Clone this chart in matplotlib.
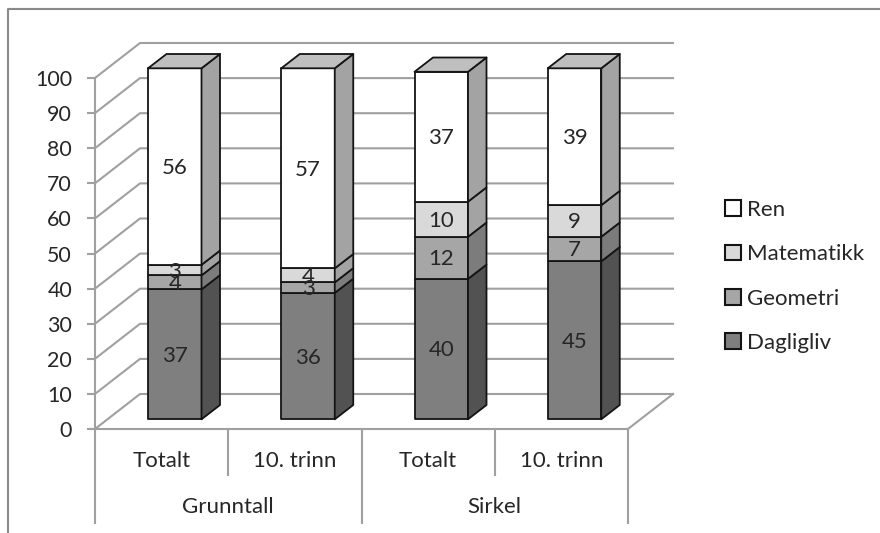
import matplotlib
matplotlib.use("Agg")
import matplotlib.pyplot as plt
from matplotlib.lines import Line2D
from matplotlib.patches import Patch

plt.rcParams["font.family"] = ["Lato", "DejaVu Sans"]

# chart values
groups = ["Grunntall", "Sirkel"]
columns = ["Totalt", "10. trinn", "Totalt", "10. trinn"]
dagligliv = [37, 36, 40, 45]
geometri = [4, 3, 12, 7]
matematikk = [3, 4, 10, 9]
ren = [56, 57, 37, 39]
series_names = ["Dagligliv", "Geometri", "Matematikk", "Ren"]
y_ticks = list(range(0, 101, 10))

front_colors = ["#7f7f7f", "#a6a6a6", "#d9d9d9", "#ffffff"]
side_colors = ["#525252", "#7c7c7c", "#a3a3a3", "#a3a3a3"]
top_color = "#bfbfbf"
grid_color = "#a0a0a0"
edge_color = "#141414"
text_color = "#262626"
label_size = 16
tick_size = 15.4

W, H = 880, 533
PX_X = 133.25  # pixels per category
PX_Y = 3.51    # pixels per value unit
X0, Y0 = 95, 429

fig = plt.figure(figsize=(W / 100, H / 100), dpi=100, facecolor="white")
ax = fig.add_axes([X0 / W, 1 - Y0 / H, 4 * PX_X / W, 100 * PX_Y / H])
ax.set_xlim(0, 4)
ax.set_ylim(0, 100)
ax.patch.set_visible(False)


def px_x(p):
    return p / PX_X


def px_y(p):
    return p / PX_Y


# outer frame of the chart area, open on the right and at the bottom
frame = Line2D([8 / W, 8 / W, 1], [0, 1 - 9 / H, 1 - 9 / H], transform=fig.transFigure,
               color="#8a8a8a", lw=1.5)
fig.add_artist(frame)

# walls and floor
wall_dx, wall_dy = px_x(45), px_y(35)
for v in y_ticks:
    ax.plot([0, wall_dx, 4 + wall_dx], [v, v + wall_dy, v + wall_dy],
            color=grid_color, lw=1.5, clip_on=False, zorder=1, solid_joinstyle="miter")
ax.plot([4, 4 + wall_dx], [0, wall_dy], color=grid_color, lw=1.5, clip_on=False, zorder=1)

# axes
for name in ["top", "right"]:
    ax.spines[name].set_visible(False)
for name in ["left", "bottom"]:
    ax.spines[name].set_color(grid_color)
    ax.spines[name].set_linewidth(1.5)
ax.set_yticks(y_ticks)
ax.tick_params(axis="y", length=5.5, width=1.5, color=grid_color, pad=11,
               labelsize=tick_size, labelcolor=text_color)
ax.set_xticks([i + 0.5 for i in range(4)])
ax.set_xticklabels(columns)
ax.tick_params(axis="x", length=0, pad=16, labelsize=label_size, labelcolor=text_color)

# category separators below the floor
for i in range(5):
    bottom = -px_y(94) if i % 2 == 0 else -px_y(46)
    ax.plot([i, i], [0, bottom], color=grid_color, lw=1.5, clip_on=False, zorder=1)
for i, name in enumerate(groups):
    ax.text(2 * i + 1, -px_y(78), name, ha="center", va="center",
            fontsize=label_size, color=text_color)

# stacked bars with depth
series = [dagligliv, geometri, matematikk, ren]
bar_inset = px_x(53)
bar_w = px_x(53.5)
lift = px_y(9.7)
depth_x, depth_y = px_x(18.5), px_y(14.3)

for c in range(len(columns)):
    left = c + bar_inset
    right = left + bar_w
    base = lift
    for s, values in enumerate(series):
        top = base + values[c]
        ax.fill([left, right, right, left], [base, base, top, top],
                facecolor=front_colors[s], edgecolor=edge_color, lw=1.3,
                clip_on=False, zorder=3, joinstyle="round")
        ax.fill([right, right + depth_x, right + depth_x, right],
                [base, base + depth_y, top + depth_y, top],
                facecolor=side_colors[s], edgecolor=edge_color, lw=1.3,
                clip_on=False, zorder=3, joinstyle="round")
        ax.annotate(str(values[c]), ((left + right) / 2, (base + top) / 2),
                    xytext=(0, -1), textcoords="offset points", ha="center", va="center",
                    fontsize=label_size, color=text_color, zorder=5, annotation_clip=False)
        base = top
    ax.fill([left, right, right + depth_x, left + depth_x],
            [base, base, base + depth_y, base + depth_y],
            facecolor=top_color, edgecolor=edge_color, lw=1.3,
            clip_on=False, zorder=3, joinstyle="round")

# legend, top entry first
handles = [Patch(facecolor=front_colors[s], edgecolor=edge_color, lw=1.5,
                 label=series_names[s]) for s in [3, 2, 1, 0]]
ax.legend(handles=handles, loc="center left", bbox_to_anchor=(725 / W, 1 - 276.5 / H),
          bbox_transform=fig.transFigure, frameon=False, fontsize=label_size,
          labelcolor=text_color, handlelength=0.72, handleheight=0.72, handletextpad=0.25,
          labelspacing=1.1, borderpad=0, borderaxespad=0)

fig.savefig("out.png", dpi=100, facecolor="white")
